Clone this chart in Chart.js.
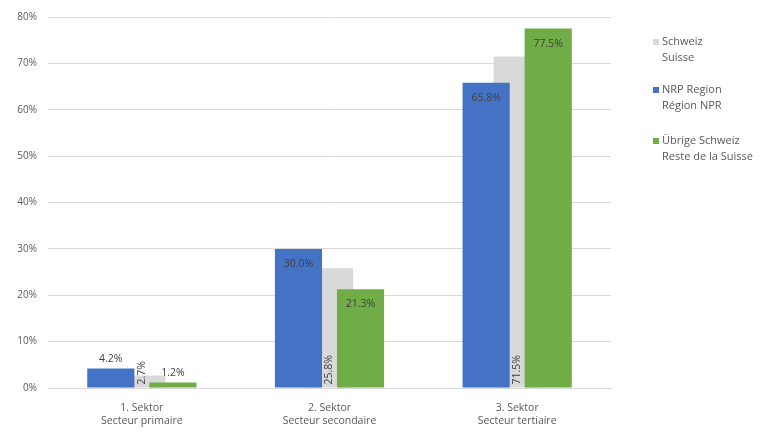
<!doctype html>
<html>
  <head>
    <script src="https://cdn.jsdelivr.net/npm/chart.js@4.4.0/dist/chart.umd.min.js"></script>
    <title>Sektoren</title>
    <style>
    body { margin: 0; background: #fff; }
    #wrap { width: 768px; height: 434px; }
    </style>
  </head>
  <body>
    <div id="wrap"><canvas id="SektorChart" width="768" height="434"></canvas></div>
    <script>
    // data
    var sectors = [['1. Sektor', 'Secteur primaire'], ['2. Sektor', 'Secteur secondaire'], ['3. Sektor', 'Secteur tertiaire']];
    var nrpRegion = [4.2, 30.0, 65.8];
    var schweiz = [2.7, 25.8, 71.5];
    var uebrigeSchweiz = [1.2, 21.3, 77.5];
    var yMax = 80;
    var yStep = 10;

    var legendItems = [
      { color: '#d9d9d9', lines: ['Schweiz', 'Suisse'] },
      { color: '#4472c4', lines: ['NRP Region', 'Région NPR'] },
      { color: '#70ad47', lines: ['Übrige Schweiz', 'Reste de la Suisse'] }
    ];

    var FONT = '"Open Sans", "Liberation Sans", sans-serif';

    // gray dataset sits behind the two others
    var grayBehind = {
      id: 'grayBehind',
      beforeDatasetsDraw: function(chart) {
        var meta = chart.getDatasetMeta(1);
        if (meta.visible) meta.controller.draw();
      },
      beforeDatasetDraw: function(chart, args) {
        if (args.index === 1) return false;
      }
    };

    var barLabels = {
      id: 'barLabels',
      afterDatasetsDraw: function(chart) {
        var ctx = chart.ctx;
        ctx.save();
        ctx.font = '10.5px ' + FONT;
        ctx.fillStyle = '#404040';
        chart.data.datasets.forEach(function(ds, di) {
          var meta = chart.getDatasetMeta(di);
          meta.data.forEach(function(bar, i) {
            var txt = ds.data[i].toFixed(1) + '%';
            if (di === 1) {
              ctx.save();
              ctx.translate(bar.x, bar.base - 3);
              ctx.rotate(-Math.PI / 2);
              ctx.textAlign = 'left';
              ctx.textBaseline = 'middle';
              ctx.fillText(txt, 0, 0);
              ctx.restore();
            } else {
              ctx.textAlign = 'center';
              if (bar.base - bar.y < 25) {
                ctx.textBaseline = 'bottom';
                ctx.fillText(txt, bar.x, bar.y - 4);
              } else {
                ctx.textBaseline = 'middle';
                ctx.fillText(txt, bar.x, bar.y + 15);
              }
            }
          });
        });
        ctx.restore();
      }
    };

    var sideLegend = {
      id: 'sideLegend',
      afterDraw: function(chart) {
        var ctx = chart.ctx;
        var tops = [42, 90, 141];
        ctx.save();
        ctx.font = '11px ' + FONT;
        ctx.textBaseline = 'middle';
        ctx.textAlign = 'left';
        legendItems.forEach(function(item, k) {
          ctx.fillStyle = item.color;
          ctx.fillRect(653, tops[k] - 3, 6, 6);
          ctx.fillStyle = '#595959';
          item.lines.forEach(function(line, j) {
            ctx.fillText(line, 662, tops[k] + j * 16);
          });
        });
        ctx.restore();
      }
    };

    var barCommon = { categoryPercentage: 0.496, barPercentage: 1.52, borderWidth: 0 };

    var ctx = document.getElementById('SektorChart');
    var myChart = new Chart(ctx, {
      type: 'bar',
      data: {
        labels: sectors,
        datasets: [
          Object.assign({ label: 'NRP Region', data: nrpRegion, backgroundColor: '#4472c4' }, barCommon),
          Object.assign({ label: 'Schweiz', data: schweiz, backgroundColor: '#d9d9d9' }, barCommon),
          Object.assign({ label: 'Übrige Schweiz', data: uebrigeSchweiz, backgroundColor: '#70ad47' }, barCommon)
        ]
      },
      options: {
        responsive: false,
        animation: false,
        layout: { padding: { left: 0, right: 157, top: 15, bottom: 0 } },
        plugins: {
          legend: { display: false },
          tooltip: { enabled: false }
        },
        scales: {
          x: {
            grid: { display: false },
            border: { color: '#d9d9d9' },
            ticks: { color: '#595959', font: { family: FONT, size: 10.5 }, padding: 6 },
            afterFit: function(scale) { scale.height = 46; }
          },
          y: {
            min: 0,
            max: yMax,
            grid: { color: '#d9d9d9', drawTicks: false },
            border: { display: false },
            ticks: {
              stepSize: yStep,
              padding: 11,
              color: '#595959',
              font: { family: FONT, size: 10 },
              callback: function(v) { return v + '%'; }
            },
            afterFit: function(scale) { scale.width = 48; }
          }
        }
      },
      plugins: [grayBehind, barLabels, sideLegend]
    });
    </script>
  </body>
</html>
